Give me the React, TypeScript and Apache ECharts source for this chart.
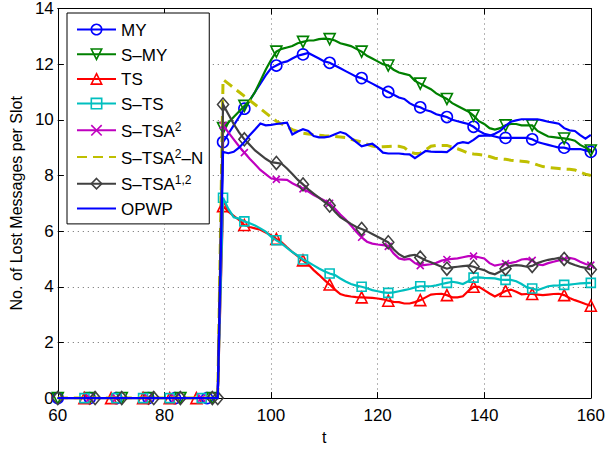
import React, { useEffect, useRef } from "react";
import * as echarts from "echarts";

// ---------- data ----------
const T_FIRST = 60; // t of the first sample, one sample per unit of t
// all series sit at 0 for t = 60 .. 90
const PRE_JUMP = [
  0, 0, 0, 0, 0, 0, 0, 0, 0, 0,
  0, 0, 0, 0, 0, 0, 0, 0, 0, 0,
  0, 0, 0, 0, 0, 0, 0, 0, 0, 0,
  0,
];

// values for t = 91 .. 160
const MY = [
  9.2, 9.5, 9.8, 10.1, 10.4, 10.7, 11.0, 11.3, 11.6, 11.85,
  11.95, 12.05, 12.1, 12.2, 12.3, 12.35, 12.4, 12.3, 12.2, 12.1,
  12.05, 11.95, 11.85, 11.75, 11.65, 11.55, 11.5, 11.4, 11.3, 11.2,
  11.1, 11.0, 10.9, 10.8, 10.75, 10.6, 10.5, 10.45, 10.35, 10.3,
  10.2, 10.15, 10.1, 10.0, 9.95, 9.9, 9.85, 9.75, 9.6, 9.5,
  9.45, 9.4, 9.35, 9.35, 9.35, 9.35, 9.35, 9.35, 9.3, 9.2,
  9.15, 9.1, 9.05, 9.0, 9.0, 8.95, 8.95, 8.95, 8.9, 8.85,
];
const S_MY = [
  9.7, 9.9, 10.1, 10.3, 10.5, 10.7, 11.0, 11.4, 11.8, 12.15,
  12.45, 12.55, 12.6, 12.65, 12.75, 12.8, 12.85, 12.85, 12.9, 12.92,
  12.9, 12.85, 12.75, 12.7, 12.65, 12.55, 12.45, 12.3, 12.2, 12.1,
  12.0, 11.95, 11.8, 11.7, 11.65, 11.6, 11.4, 11.3, 11.2, 11.1,
  10.95, 10.85, 10.75, 10.6, 10.5, 10.4, 10.3, 10.15, 9.95, 9.85,
  9.7, 9.65, 9.7, 9.8, 9.85, 9.85, 9.8, 9.8, 9.8, 9.6,
  9.5, 9.4, 9.38, 9.35, 9.33, 9.3, 9.25, 9.1, 9.0, 8.9,
];
const TS = [
  6.9, 6.7, 6.55, 6.4, 6.22, 6.15, 6.1, 6.05, 5.95, 5.85,
  5.72, 5.6, 5.42, 5.25, 5.1, 4.95, 4.8, 4.6, 4.43, 4.25,
  4.08, 3.9, 3.74, 3.68, 3.65, 3.63, 3.62, 3.61, 3.6, 3.58,
  3.55, 3.5, 3.46, 3.45, 3.4, 3.4, 3.45, 3.52, 3.62, 3.72,
  3.74, 3.75, 3.7, 3.62, 3.62, 3.66, 3.85, 4.0, 4.0, 3.88,
  3.76, 3.65, 3.75, 3.85, 3.9, 3.82, 3.73, 3.74, 3.74, 3.72,
  3.7, 3.72, 3.74, 3.75, 3.7, 3.6, 3.52, 3.45, 3.38, 3.32,
];
const S_TS = [
  7.2, 6.8, 6.5, 6.45, 6.35, 6.28, 6.2, 6.1, 5.98, 5.8,
  5.67, 5.55, 5.4, 5.25, 5.12, 4.98, 4.88, 4.77, 4.66, 4.56,
  4.48, 4.42, 4.3, 4.19, 4.1, 4.04, 4.0, 3.95, 3.88, 3.84,
  3.8, 3.78, 3.8, 3.84, 3.88, 3.92, 3.98, 4.02, 4.02, 4.02,
  4.05, 4.1, 4.14, 4.18, 4.15, 4.1, 4.2, 4.33, 4.34, 4.32,
  4.31, 4.3, 4.26, 4.25, 4.25, 4.2, 4.1, 3.98, 3.94, 3.88,
  3.95, 4.02, 4.04, 4.05, 4.07, 4.08, 4.1, 4.12, 4.13, 4.14,
];
const S_TSA2 = [
  9.8, 9.55, 9.3, 9.05, 8.82, 8.6, 8.4, 8.2, 8.05, 7.9,
  7.86, 7.85, 7.84, 7.72, 7.62, 7.52, 7.42, 7.3, 7.2, 7.1,
  7.0, 6.8, 6.6, 6.42, 6.2, 5.98, 5.78, 5.62, 5.55, 5.52,
  5.5, 5.45, 5.2, 5.02, 4.98, 5.0, 4.85, 4.76, 4.79, 4.81,
  4.86, 4.94, 4.98, 5.0, 5.02, 5.06, 5.1, 5.1, 5.06, 5.02,
  4.85, 4.76, 4.8, 4.83, 4.86, 4.9, 4.98, 5.0, 4.95, 4.8,
  4.78, 4.85, 4.9, 4.95, 5.0, 5.04, 5.0, 4.9, 4.82, 4.78,
];
const S_TSA2_N = [
  11.45, 11.3, 11.15, 11.0, 10.85, 10.7, 10.55, 10.4, 10.25, 10.1,
  9.95, 9.85, 9.75, 9.65, 9.58, 9.52, 9.49, 9.47, 9.45, 9.43,
  9.42, 9.4, 9.38, 9.36, 9.3, 9.25, 9.2, 9.12, 9.06, 9.02,
  9.03, 9.04, 9.05, 9.05, 9.0, 8.85, 8.79, 8.8, 8.92, 9.05,
  9.08, 9.08, 9.08, 9.02, 8.96, 8.88, 8.8, 8.77, 8.75, 8.73,
  8.68, 8.62, 8.6, 8.58, 8.55, 8.53, 8.51, 8.49, 8.45, 8.38,
  8.32, 8.29, 8.27, 8.25, 8.23, 8.22, 8.2, 8.12, 8.05, 8.0,
];
const S_TSA12 = [
  10.55, 10.2, 9.85, 9.55, 9.3, 9.1, 8.9, 8.75, 8.6, 8.48,
  8.45, 8.42, 8.25, 8.05, 7.85, 7.68, 7.5, 7.35, 7.2, 7.05,
  6.92, 6.7, 6.5, 6.38, 6.26, 6.15, 6.08, 6.0, 5.9, 5.8,
  5.7, 5.6, 5.35, 5.17, 5.06, 5.12, 5.15, 5.05, 4.95, 4.88,
  4.8, 4.72, 4.65, 4.7, 4.72, 4.74, 4.76, 4.72, 4.65, 4.6,
  4.5, 4.45, 4.55, 4.65, 4.75, 4.78, 4.76, 4.72, 4.75, 4.85,
  4.92, 4.97, 5.0, 5.04, 5.0, 4.85, 4.78, 4.72, 4.68, 4.62,
];
const OPWP = [
  8.85, 8.8, 8.85, 9.0, 9.2, 9.45, 9.65, 9.87, 9.8, 9.82,
  9.85, 9.87, 9.9, 9.47, 9.58, 9.66, 9.6, 9.42, 9.37, 9.37,
  9.4, 9.48, 9.56, 9.5, 9.35, 9.2, 9.05, 9.1, 9.14, 9.0,
  8.82, 8.79, 8.79, 8.79, 8.77, 8.76, 8.62, 8.75, 8.88, 8.86,
  8.85, 8.85, 8.84, 8.98, 9.15, 9.2, 9.16, 9.28, 9.42, 9.43,
  9.43, 9.5, 9.6, 9.78, 9.93, 9.98, 10.02, 10.02, 10.02, 10.02,
  9.98, 9.93, 9.9, 9.86, 9.7, 9.62, 9.6, 9.45, 9.32, 9.46,
];

// t values where a marker is drawn
const MARKERS_AFTER = [91, 95, 101, 106, 111, 117, 122, 128, 133, 138, 144, 149, 155, 160];
const MARKERS_FLAT_MY = [60, 66, 71, 77, 82, 88];
const MARKERS_FLAT_SMY = [60, 66, 72, 77, 83, 89];
const MARKERS_FLAT_TS = [65, 70, 76, 81, 86];
const MARKERS_FLAT_STS = [65, 71, 76, 81, 87];
const MARKERS_FLAT_STSA2 = [66, 71, 77, 82, 87];
const MARKERS_FLAT_STSA12 = [60, 67, 72, 78, 83, 89, 90];

const X_TICKS = { min: 60, max: 160, interval: 20 };
const Y_TICKS = { min: 0, max: 14, interval: 2 };

// ---------- styles ----------
const FONT = '"Liberation Sans", Arial, Helvetica, sans-serif';
const X_SYMBOL = "path://M0,0L10,10M10,0L0,10";

type Def = {
  name: string;
  label: string;
  values: number[];
  markers: number[];
  color: string;
  symbol: string;
  size: number | number[];
  rotate: number;
  dash: any;
  width: number;
};

const DEFS: Def[] = [
  { name: "MY", label: "{b|MY}", values: MY, markers: [...MARKERS_FLAT_MY, ...MARKERS_AFTER], color: "#0000FF", symbol: "circle", size: 11, rotate: 0, dash: "solid", width: 2.2 },
  { name: "S–MY", label: "{b|S–MY}", values: S_MY, markers: [...MARKERS_FLAT_SMY, ...MARKERS_AFTER], color: "#008000", symbol: "triangle", size: 11, rotate: 180, dash: "solid", width: 2.2 },
  { name: "TS", label: "{b|TS}", values: TS, markers: [...MARKERS_FLAT_TS, ...MARKERS_AFTER], color: "#FF0000", symbol: "triangle", size: 11, rotate: 0, dash: "solid", width: 2.2 },
  { name: "S–TS", label: "{b|S–TS}", values: S_TS, markers: [...MARKERS_FLAT_STS, ...MARKERS_AFTER], color: "#00BFBF", symbol: "rect", size: 9, rotate: 0, dash: "solid", width: 2.2 },
  { name: "S–TSA2", label: "{b|S–TSA}{s|2}", values: S_TSA2, markers: [...MARKERS_FLAT_STSA2, ...MARKERS_AFTER], color: "#BF00BF", symbol: X_SYMBOL, size: 7, rotate: 0, dash: "solid", width: 2.2 },
  { name: "S–TSA2–N", label: "{b|S–TSA}{s|2}{b|–N}", values: S_TSA2_N, markers: [], color: "#BFBF00", symbol: "none", size: 0, rotate: 0, dash: [10, 6], width: 3 },
  { name: "S–TSA1,2", label: "{b|S–TSA}{s|1,2}", values: S_TSA12, markers: [...MARKERS_FLAT_STSA12, ...MARKERS_AFTER], color: "#404040", symbol: "diamond", size: [11, 13], rotate: 0, dash: "solid", width: 2.2 },
  { name: "OPWP", label: "{b|OPWP}", values: OPWP, markers: [], color: "#0000FF", symbol: "none", size: 0, rotate: 0, dash: "solid", width: 2.2 },
];

function buildData(d: Def) {
  const all = [...PRE_JUMP, ...d.values];
  return all.map((v, i) => {
    const t = T_FIRST + i;
    if (d.symbol !== "none" && d.markers.includes(t)) return { value: [t, v] };
    return { value: [t, v], symbol: "none" };
  });
}

const axisCommon = {
  type: "value" as const,
  axisLine: { show: true, onZero: false, lineStyle: { color: "#000", width: 1 } },
  axisTick: { show: true, inside: true, length: 6, lineStyle: { color: "#000", width: 1 } },
};
const gridLine = { show: true, lineStyle: { color: "#6a6a6a", width: 1, type: [1, 4] as any } };

export default function App() {
  const ref = useRef<HTMLDivElement>(null);
  useEffect(() => {
    if (!ref.current) return;
    const chart = echarts.init(ref.current, null, { renderer: "svg" });
    const labelMap: Record<string, string> = {};
    DEFS.forEach((d) => (labelMap[d.name] = d.label));
    chart.setOption({
      animation: false,
      backgroundColor: "#fff",
      grid: { left: 56, right: 16, top: 7, bottom: 49 },
      xAxis: [
        {
          ...axisCommon,
          ...X_TICKS,
          position: "bottom",
          axisLabel: { color: "#000", fontSize: 17, fontFamily: FONT, margin: 9 },
          splitLine: gridLine,
          name: "t",
          nameLocation: "middle",
          nameGap: 30,
          nameTextStyle: { color: "#000", fontSize: 16, fontFamily: FONT },
        },
        {
          ...axisCommon,
          ...X_TICKS,
          position: "top",
          axisLabel: { show: false },
          splitLine: { show: false },
        },
      ],
      yAxis: [
        {
          ...axisCommon,
          ...Y_TICKS,
          position: "left",
          axisLabel: { color: "#000", fontSize: 17, fontFamily: FONT, margin: 4 },
          splitLine: gridLine,
          name: "No. of Lost Messages per Slot",
          nameLocation: "middle",
          nameGap: 33,
          nameTextStyle: { color: "#000", fontSize: 16, fontFamily: FONT },
        },
        {
          ...axisCommon,
          ...Y_TICKS,
          position: "right",
          axisLabel: { show: false },
          splitLine: { show: false },
        },
      ],
      legend: {
        orient: "vertical",
        left: 67,
        top: 13,
        padding: [9, 6, 6, 9],
        itemWidth: 39,
        itemHeight: 13,
        itemGap: 7.7,
        selectedMode: false,
        backgroundColor: "#fff",
        borderColor: "#000",
        borderWidth: 1,
        borderRadius: 0,
        formatter: (name: string) => labelMap[name] || name,
        textStyle: {
          color: "#000",
          fontFamily: FONT,
          fontSize: 17,
          rich: {
            b: { fontSize: 17, fontFamily: FONT, color: "#000", lineHeight: 19, verticalAlign: "bottom" },
            s: { fontSize: 12, fontFamily: FONT, color: "#000", lineHeight: 12, verticalAlign: "top" },
          },
        },
        data: DEFS.map((d) => ({
          name: d.name,
          itemStyle:
            d.symbol === "none"
              ? { color: "rgba(0,0,0,0)", borderWidth: 0, opacity: 0 }
              : { color: "rgba(0,0,0,0)", borderColor: d.color, borderWidth: 1.6 },
        })),
      },
      series: DEFS.map((d, i) => ({
        name: d.name,
        type: "line",
        xAxisIndex: 0,
        yAxisIndex: 0,
        data: buildData(d),
        symbol: d.symbol === "none" ? "circle" : d.symbol,
        symbolSize: d.size,
        symbolRotate: d.rotate,
        showSymbol: d.symbol !== "none",
        lineStyle: { color: d.color, width: d.width, type: d.dash, cap: "butt", join: "miter" },
        itemStyle: { color: "rgba(0,0,0,0)", borderColor: d.color, borderWidth: 1.6 },
        emphasis: { disabled: true },
        z: 2 + i,
      })),
    });
    return () => chart.dispose();
  }, []);
  return (
    <div
      ref={ref}
      style={{ position: "absolute", left: 0, top: 0, width: 608, height: 450 }}
    />
  );
}
